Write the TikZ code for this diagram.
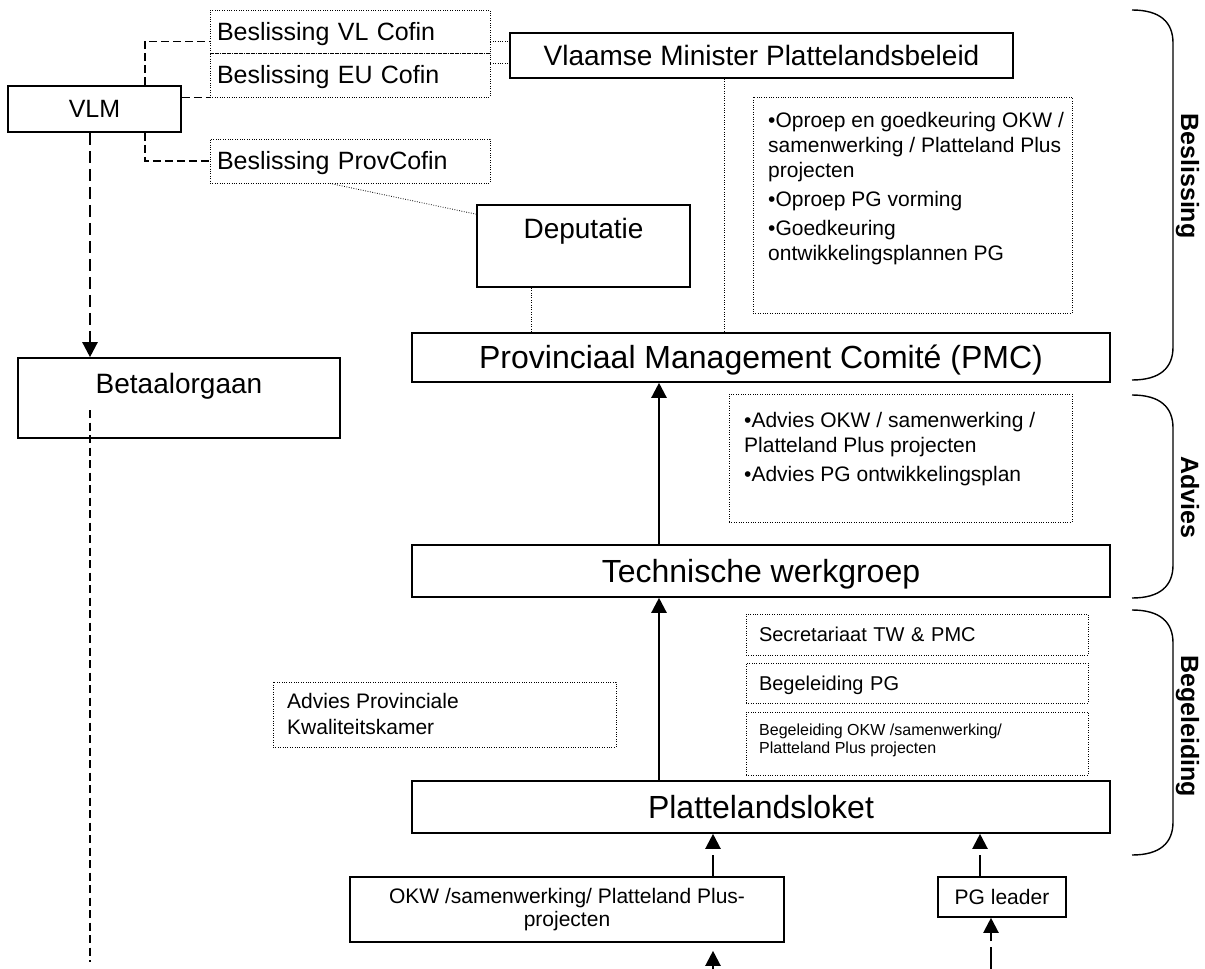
\documentclass[tikz,border=0pt]{standalone}
\usepackage{fontspec}
\setmainfont{Liberation Sans}
\usetikzlibrary{arrows.meta}

\tikzset{
  box/.style={draw, line width=1.6pt, inner sep=0pt},
  dotbox/.style={draw, line width=0.8pt, dash pattern=on 0.8pt off 1.6pt, inner sep=0pt},
  capht/.style={text height=#1, text depth=0pt},
  t32/.style={font=\fontsize{32}{37}\selectfont},
  t28/.style={font=\fontsize{28}{32}\selectfont},
  t25/.style={font=\fontsize{25}{29}\selectfont},
  t21/.style={font=\fontsize{21}{25}\selectfont},
  t20/.style={font=\fontsize{20}{24}\selectfont},
  t16/.style={font=\fontsize{16}{18}\selectfont},
  phase/.style={font=\fontsize{25}{29}\selectfont\bfseries, rotate=-90, anchor=base, inner sep=0pt},
  tipped/.style={-{Triangle[length=15pt,width=15pt]}},
  link/.style={line width=1.6pt, dash pattern=on 8pt off 4pt},
  dotlink/.style={line width=0.8pt, dash pattern=on 0.8pt off 1.6pt},
  flow/.style={tipped, line width=2.4pt},
  feed/.style={tipped, line width=2.2pt, dash pattern=on 21pt off 6pt},
  bracket/.style={line width=1.4pt}
}

\begin{document}
\begin{tikzpicture}[x=1pt, y=-1pt]
  \useasboundingbox (0,0) rectangle (1205,969);

  \node[box, t25, capht=17.9pt, minimum width=173pt, minimum height=46pt] (vlm) at (94.5,109) {VLM};
  \node[dotbox, t25, capht=17.9pt, minimum width=280pt, minimum height=43pt, text width=266pt, align=left] (vlcofin) at (350,31.5) {Beslissing VL Cofin};
  \node[dotbox, t25, capht=17.9pt, minimum width=280pt, minimum height=44pt, text width=266pt, align=left] (eucofin) at (350,75) {Beslissing EU Cofin};
  \node[dotbox, t25, capht=17.9pt, minimum width=280pt, minimum height=44pt, text width=266pt, align=left] (provcofin) at (350,161) {Beslissing ProvCofin};
  \node[box, t28, capht=20pt, minimum width=503pt, minimum height=45pt] (minister) at (761.5,55.5) {Vlaamse Minister Plattelandsbeleid};
  \node[box, minimum width=213pt, minimum height=82pt] (depu) at (583.5,246) {};
  \node[t28, anchor=base, inner sep=0pt] (deputxt) at (583.5,238) {Deputatie};
  \node[dotbox, minimum width=319pt, minimum height=216pt] (oproep) at (912.5,205) {};
  \node[t21, anchor=north west, inner sep=0pt, align=left] (oproeptxt) at (768,112.5)
    {•Oproep en goedkeuring OKW /\\samenwerking / Platteland Plus\\projecten\\[4pt]•Oproep PG vorming\\[4pt]•Goedkeuring\\ontwikkelingsplannen PG};

  \node[box, t32, capht=22.9pt, minimum width=698pt, minimum height=49pt] (pmc) at (761,357.5) {Provinciaal Management Comité (PMC)};
  \node[box, minimum width=322pt, minimum height=80pt] (betaal) at (179,398) {};
  \node[t28, anchor=base, inner sep=0pt] (betaaltxt) at (179,393) {Betaalorgaan};
  \node[dotbox, minimum width=343pt, minimum height=128pt] (advies) at (900.5,458) {};
  \node[t21, anchor=north west, inner sep=0pt, align=left] (adviestxt) at (744,411.7)
    {•Advies OKW / samenwerking /\\Platteland Plus projecten\\[4pt]•Advies PG ontwikkelingsplan};

  \node[box, t32, capht=22.9pt, minimum width=698pt, minimum height=52pt] (tw) at (761,571) {Technische werkgroep};
  \node[dotbox, t20, capht=14.3pt, minimum width=342pt, minimum height=41pt, text width=316pt, align=left] (secr) at (917,634.5) {Secretariaat TW \& PMC};
  \node[dotbox, t20, capht=14.3pt, minimum width=342pt, minimum height=40pt, text width=316pt, align=left] (begpg) at (917,683) {Begeleiding PG};
  \node[dotbox, minimum width=342pt, minimum height=63pt] (begokw) at (917,743.5) {};
  \node[t16, anchor=north west, inner sep=0pt, align=left] (begokwtxt) at (759,723.3)
    {Begeleiding OKW /samenwerking/\\Platteland Plus projecten};
  \node[dotbox, minimum width=343pt, minimum height=65pt] (kwal) at (444.5,714.5) {};
  \node[font=\fontsize{21}{26}\selectfont, anchor=north west, inner sep=0pt, align=left] (kwaltxt) at (287,692.7)
    {Advies Provinciale\\Kwaliteitskamer};

  \node[box, t32, capht=22.9pt, minimum width=698pt, minimum height=52pt] (plat) at (761,807) {Plattelandsloket};
  \node[box, font=\fontsize{21}{23}\selectfont, align=center, minimum width=434pt, minimum height=65pt] (okw) at (567,909.5)
    {OKW /samenwerking/ Platteland Plus-\\projecten};
  \node[box, t21, capht=15pt, minimum width=128pt, minimum height=40pt] (pg) at (1002,897) {PG leader};

  \node[phase] (lbes) at (1181,176) {Beslissing};
  \node[phase] (ladv) at (1181,497) {Advies};
  \node[phase] (lbeg) at (1181,726) {Begeleiding};

  \foreach \ya/\yb in {10/380, 395/598, 610/855}
    \draw[bracket] (1132,\ya) .. controls (1160,\ya) and (1173,\ya+12) .. (1173,\ya+33)
      -- (1173,\yb-33) .. controls (1173,\yb-12) and (1160,\yb) .. (1132,\yb);

  \draw[link] ([xshift=50.5pt]vlm.north) |- ([yshift=-10pt]vlcofin.west);
  \draw[link] (vlm.east |- eucofin.south west) -- (eucofin.south west);
  \draw[link] ([xshift=50.5pt]vlm.south) |- (provcofin.west);

  \coordinate (vlend) at ([yshift=-10pt]vlcofin.east);
  \coordinate (euend) at ([yshift=12pt]eucofin.east);
  \draw[dotlink] (vlend) -- (vlend -| minister.west);
  \draw[dotlink] (euend) -- (euend -| minister.west);
  \draw[dotlink] ([xshift=-20pt]provcofin.south) -- ([yshift=-10pt]depu.north west);
  \coordinate (depufoot) at ([xshift=-52.5pt]depu.south);
  \coordinate (minfoot) at ([xshift=-37.5pt]minister.south);
  \draw[dotlink] (depufoot) -- (depufoot |- pmc.north);
  \draw[dotlink] (minfoot) -- (minfoot |- pmc.north);

  \coordinate (vlmfoot) at ([xshift=-4.5pt]vlm.south);
  \draw[tipped, line width=2.4pt, dash pattern=on 12pt off 6pt] (vlmfoot) -- (vlmfoot |- betaal.north);
  \coordinate (paytop) at (90,410);
  \coordinate (payend) at (90,962);
  \draw[line width=1.6pt, dash pattern=on 8pt off 4.5pt] (paytop) -- (payend);

  \draw[flow] ([xshift=-102pt]tw.north) -- ([xshift=-102pt]pmc.south);
  \draw[flow] ([xshift=-102pt]plat.north) -- ([xshift=-102pt]tw.south);

  \coordinate (okwtop) at ([xshift=146pt]okw.north);
  \coordinate (pgtop) at ([xshift=-22pt]pg.north);
  \draw[feed] (okwtop) -- (okwtop |- plat.south);
  \draw[feed] (pgtop) -- (pgtop |- plat.south);
  \coordinate (okwin) at (713,969);
  \coordinate (pgin) at (991,969);
  \draw[feed, shorten >=8pt] (okwin) -- (okwin |- okw.south);
  \draw[feed, dash pattern=on 22pt off 6pt] (pgin) -- (pgin |- pg.south);
\end{tikzpicture}
\end{document}
